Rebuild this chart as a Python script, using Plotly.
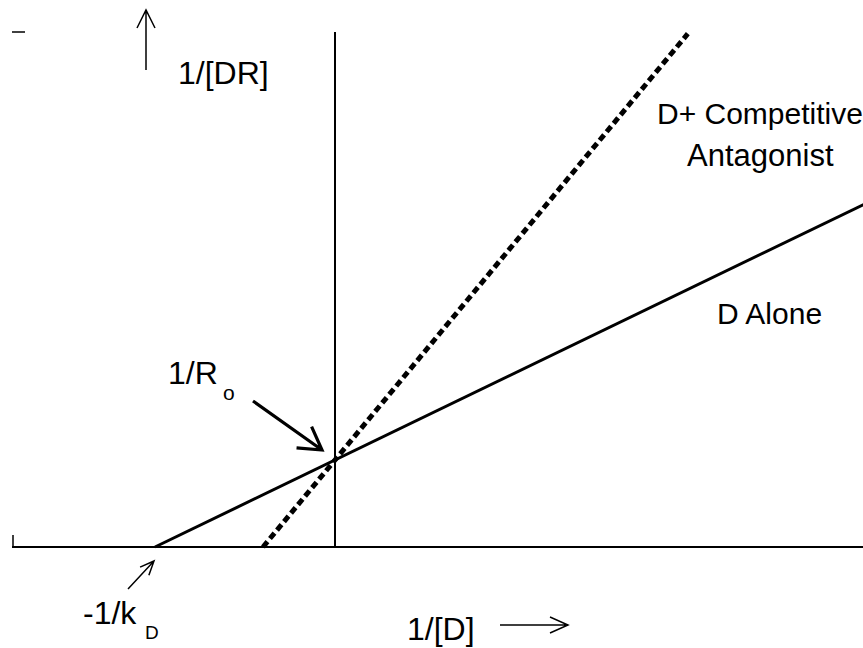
import plotly.graph_objects as go

# ---- data (double-reciprocal plot) ----
inv_D_alone = [-1.0, 3.0]        # 1/[D] for drug alone
inv_DR_alone = [0.0, 4.0]        # 1/[DR] for drug alone
inv_D_antag = [-0.4, 1.96]       # 1/[D] with competitive antagonist
inv_DR_antag = [0.0, 5.9]        # 1/[DR] with competitive antagonist
neg_inv_kD = -1.0                # x-intercept, -1/kD
inv_Ro = 1.0                     # y-intercept, 1/Ro

W, H = 863, 648
X_RANGE = [-335 / 180, (W - 335) / 180]
Y_RANGE = [(547 - H) / 87, 547 / 87]
FONT = "Arial, Liberation Sans, sans-serif"


def dx(px):
    return X_RANGE[0] + px / W * (X_RANGE[1] - X_RANGE[0])


def dy(py):
    return Y_RANGE[1] - py / H * (Y_RANGE[1] - Y_RANGE[0])


def arrow_path(x0, y0, x1, y1, head_len, half_w):
    """open V arrow between window pixels (x0,y0)->(x1,y1), path in data coords"""
    vx, vy = x1 - x0, y1 - y0
    L = (vx ** 2 + vy ** 2) ** 0.5
    ux, uy = vx / L, vy / L
    nx, ny = -uy, ux
    bx, by = x1 - ux * head_len, y1 - uy * head_len
    h1 = (bx + nx * half_w, by + ny * half_w)
    h2 = (bx - nx * half_w, by - ny * half_w)
    pt = lambda p: f"{dx(p[0]):.5f},{dy(p[1]):.5f}"
    return (f"M {pt((x0, y0))} L {pt((x1, y1))} "
            f"M {pt(h1)} L {pt((x1, y1))} L {pt(h2)}")


fig = go.Figure()
fig.add_trace(go.Scatter(x=inv_D_alone, y=inv_DR_alone, mode="lines",
                         line=dict(color="black", width=3), showlegend=False,
                         hoverinfo="skip"))
fig.add_trace(go.Scatter(x=inv_D_antag, y=inv_DR_antag, mode="lines",
                         line=dict(color="black", width=5, dash="7px,4px"),
                         showlegend=False, hoverinfo="skip"))

shapes = []
# axes through the origin
shapes.append(dict(type="line", x0=0, x1=0, y0=0, y1=dy(32), xref="x", yref="y",
                   line=dict(color="black", width=2)))
shapes.append(dict(type="line", x0=dx(12), x1=X_RANGE[1], y0=0, y1=0, xref="x", yref="y",
                   line=dict(color="black", width=1.8)))
# frame tick remnants
shapes.append(dict(type="line", x0=dx(12), x1=dx(25), y0=dy(32), y1=dy(32), xref="x", yref="y",
                   line=dict(color="black", width=1.5)))
shapes.append(dict(type="line", x0=dx(13), x1=dx(13), y0=dy(535), y1=0, xref="x", yref="y",
                   line=dict(color="black", width=1.5)))
# arrows
shapes.append(dict(type="path", path=arrow_path(146, 70, 146, 10, 18, 9), xref="x", yref="y",
                   line=dict(color="black", width=1.5)))
shapes.append(dict(type="path", path=arrow_path(500, 625, 568, 625, 18, 8), xref="x", yref="y",
                   line=dict(color="black", width=1.5)))
shapes.append(dict(type="path", path=arrow_path(128, 589, 154, 561, 14, 6), xref="x", yref="y",
                   line=dict(color="black", width=1.5)))
shapes.append(dict(type="path", path=arrow_path(253, 401, 322, 450, 22, 13), xref="x", yref="y",
                   line=dict(color="black", width=3.2)))

ann = []


def label(text, px, py, size, anchor="left"):
    ann.append(dict(text=text, x=dx(px), y=dy(py), xref="x", yref="y",
                    xanchor=anchor, yanchor="middle", showarrow=False,
                    font=dict(family=FONT, size=size, color="black")))


label("1/[DR]", 176, 73, 32)
label("D+ Competitive", 655, 113, 30)
label("Antagonist", 685, 155, 31)
label("D Alone", 715, 313, 30)
label("1/R", 166, 373, 32)
label("o", 221, 392, 21)
label("-1/k", 81, 613, 32)
label("D", 143, 632, 19)
label("1/[D]", 405, 629, 32)

fig.update_layout(
    width=W, height=H, margin=dict(l=0, r=0, t=0, b=0),
    paper_bgcolor="white", plot_bgcolor="white",
    xaxis=dict(range=X_RANGE, visible=False, fixedrange=True),
    yaxis=dict(range=Y_RANGE, visible=False, fixedrange=True),
    shapes=shapes, annotations=ann, showlegend=False,
)
fig.write_html("out.html", config={"displayModeBar": False},
               post_script="document.body.style.margin='0';"
                           "document.body.style.overflow='hidden';")
